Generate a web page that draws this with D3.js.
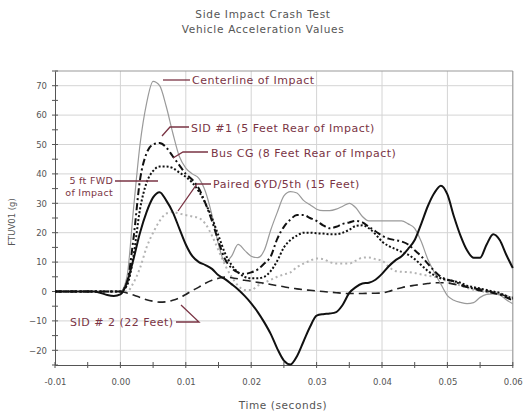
<!DOCTYPE html>
<html><head><meta charset="utf-8">
<script src="https://cdn.jsdelivr.net/npm/d3@7"></script>
<style>body{margin:0;background:#fff}svg{display:block}</style>
</head><body>
<svg id="c" width="525" height="413"></svg>
<script>
const times = [-0.01,-0.008,-0.006,-0.004,-0.003,-0.002,-0.001,0,0.001,0.002,0.003,0.004,0.005,0.006,0.007,0.008,0.009,0.010,0.011,0.012,0.013,0.014,0.015,0.016,0.017,0.018,0.019,0.020,0.021,0.022,0.023,0.024,0.025,0.026,0.027,0.028,0.029,0.030,0.031,0.032,0.033,0.034,0.035,0.036,0.037,0.038,0.039,0.040,0.041,0.042,0.043,0.044,0.045,0.046,0.047,0.048,0.049,0.050,0.051,0.052,0.053,0.054,0.055,0.056,0.057,0.058,0.059,0.060];

const centerline = [0,0,0,0,0,0,0,0,5,28,50,64,71.5,70,63,54,46,42,40,38.5,34,26,16,10,12,16,14,12,11.5,14,21,27,32.5,34,33.5,31,29.5,28,27.5,27.5,28,29,30,28.5,25.5,24,24,24,24,24,24,23,21.5,17,11,6.5,2.5,-1.4,-3,-3.7,-4.1,-3.8,-2,-1,-0.8,-1.2,-2.8,-4.2];
const sid1 = [0,0,0,0,0,0,0,0,3,18,38,47,50,50.5,49,46,43,40,38,35,30,24,17,11,8,6.5,6,6.5,7.5,9.5,12,18,22,24.5,26,26,25,24,22.5,21.5,22,23,23.5,24,23.5,22,20.5,19,18,17.5,17,16,14,12,9.5,7,5,4,3.5,2.5,1.5,1,0.3,0,-0.5,-1,-2,-3];
const busCG = [0,0,0,0,0,0,0,0,2,12,28,37,41,42.5,42.5,42,40.5,39,37,34,30,25,19,13,9,6.5,5,4.5,4.5,5,7,10.5,15,17.5,19,20,20,19.8,19.7,19.5,19.5,20,21,22.3,22.5,21.5,19.5,17,15.5,14.5,13.5,12.5,11,9,7,5.5,4.5,4,3.5,3,2,1.5,1,0.5,0,-0.5,-1.5,-2.5];
const paired = [0,0,0,0,0,0,0,0,0,3,8,15,20,24,26.5,27,26.5,26,25.5,25,23,19,14,9,5,2,0.5,0.5,2,3,4,5,5.8,6.5,8.3,9.5,10.5,11.2,11,10,9.5,9.5,9.5,10.5,11.5,11.6,11,10.5,8.5,7,6.7,6.6,6.3,5.8,5.4,5,4.4,3.5,2.8,2,1.2,0.6,0.2,-0.2,-0.5,-1,-1.5,-2];
const fwd5 = [0,0,0,0,-0.5,-1.2,-1.5,-1,3,11,20,27,32,33.8,31,27,21.5,16,12,10,9,7.7,5.5,4.2,2.5,0.7,-1.5,-4,-7,-10.5,-14.5,-19.5,-23.5,-24.8,-22,-17,-12,-8.2,-7.7,-7.5,-7,-4.5,-0.5,1.5,2.7,3,4,6,8.5,10.5,12,14.5,17.5,23,29,33.5,36,33,25.5,19,14,11.5,11.5,16,19.5,17.5,12.5,8];
const sid2 = [0,0,0,0,0,0,0,0,-0.5,-1.2,-2,-2.8,-3.3,-3.6,-3.5,-3,-2.2,-1,0.3,1.5,2.8,3.8,4.5,4.9,4.7,4.3,3.8,3.5,3.1,2.8,2.4,2,1.6,1.2,0.9,0.6,0.4,0.2,0,-0.2,-0.4,-0.6,-0.7,-0.7,-0.7,-0.6,-0.6,-0.5,0,0.7,1.3,1.8,2.1,2.4,2.7,3,3,2.9,2.5,2,1.5,1.1,0.8,0.3,-0.3,-0.9,-1.5,-2];

const xTicks = [-0.01,0.00,0.01,0.02,0.03,0.04,0.05,0.06];
const xTickLabels = ["-0.01","0.00","0.01","0.02","0.03","0.04","0.05","0.06"];
const yTicks = [-20,-10,0,10,20,30,40,50,60,70];
const titleLines = ["Side Impact Crash Test","Vehicle Acceleration Values"];

const svg = d3.select("#c");
const font = "DejaVu Sans, Verdana, sans-serif";
const x = d3.scaleLinear().domain([-0.01,0.06]).range([55,512.8]);
const y = d3.scaleLinear().domain([-25,75]).range([365,71]);
const red = "#7a3444";

// grid
const g = svg.append("g");
g.selectAll(".hg").data(yTicks).join("line")
  .attr("x1",55).attr("x2",512.8).attr("y1",d=>y(d)).attr("y2",d=>y(d))
  .attr("stroke","#d4d4d4").attr("stroke-width",1);
g.selectAll(".vg").data(xTicks.slice(1)).join("line")
  .attr("x1",d=>x(d)).attr("x2",d=>x(d)).attr("y1",71).attr("y2",365)
  .attr("stroke","#d4d4d4").attr("stroke-width",1);
g.append("line").attr("x1",55).attr("x2",512.8).attr("y1",71).attr("y2",71).attr("stroke","#999");
g.append("line").attr("x1",512.8).attr("x2",512.8).attr("y1",71).attr("y2",365).attr("stroke","#999");

// axes
const xAxis = d3.axisBottom(x).tickValues(xTicks).tickFormat((d,i)=>xTickLabels[i]).tickSize(0).tickPadding(14);
const xa = svg.append("g").attr("transform","translate(0,365)").call(xAxis);
xa.select(".domain").attr("stroke","#555");
xa.selectAll("text").attr("font-family",font).attr("font-size",8.5).attr("fill","#555");
const xMinor = d3.range(-0.01,0.0601,0.005);
svg.append("g").selectAll("line").data(xMinor).join("line")
  .attr("x1",d=>x(d)).attr("x2",d=>x(d)).attr("y1",362).attr("y2",368).attr("stroke","#555");

const yAxis = d3.axisLeft(y).tickValues(yTicks).tickSize(0).tickPadding(8);
const ya = svg.append("g").attr("transform","translate(55,0)").call(yAxis);
ya.select(".domain").attr("stroke","#555");
ya.selectAll("text").attr("font-family",font).attr("font-size",8.5).attr("fill","#555");
const yMinor = d3.range(-25,75.1,5);
svg.append("g").selectAll("line").data(yMinor).join("line")
  .attr("x1",52).attr("x2",58).attr("y1",d=>y(d)).attr("y2",d=>y(d)).attr("stroke","#555");

// series
const line = d3.line().x((d,i)=>x(times[i])).y(d=>y(d)).curve(d3.curveMonotoneX);
const series = [
  {v:paired, stroke:"#b4b4b4", w:2, dash:"2,3"},
  {v:sid2, stroke:"#222", w:1.6, dash:"8,5"},
  {v:centerline, stroke:"#9a9a9a", w:1.2, dash:null},
  {v:busCG, stroke:"#111", w:2, dash:"2,2"},
  {v:sid1, stroke:"#111", w:2, dash:"7,3,2,3"},
  {v:fwd5, stroke:"#111", w:2, dash:null}
];
svg.append("g").selectAll("path").data(series).join("path")
  .attr("d",d=>line(d.v)).attr("fill","none")
  .attr("stroke",d=>d.stroke).attr("stroke-width",d=>d.w)
  .attr("stroke-dasharray",d=>d.dash);

// annotations
const ann = svg.append("g").attr("font-family",font).attr("font-size",11).attr("letter-spacing",0.5).attr("fill",red);
const leaders = [
  [[163,80],[190,80]],
  [[162,136],[170,127],[189,127]],
  [[173,158],[183,152],[208,152]],
  [[178,211],[197,184],[211,184]],
  [[115,181],[158,181]],
  [[181,305],[199,322],[176,322]]
];
ann.selectAll("polyline").data(leaders).join("polyline")
  .attr("points",d=>d.map(p=>p.join(",")).join(" "))
  .attr("fill","none").attr("stroke",red).attr("stroke-width",1.3);
const labels = [
  {t:"Centerline of Impact", x:192, y:84},
  {t:"SID #1 (5 Feet Rear of Impact)", x:191, y:132},
  {t:"Bus CG (8 Feet Rear of Impact)", x:211, y:157},
  {t:"Paired 6YD/5th (15 Feet)", x:213, y:188},
  {t:"SID # 2 (22 Feet)", x:70, y:326}
];
ann.selectAll("text.l").data(labels).join("text")
  .attr("x",d=>d.x).attr("y",d=>d.y).text(d=>d.t);
ann.append("text").attr("x",113).attr("y",184).attr("text-anchor","end").attr("font-size",9.5).attr("letter-spacing",0.3).text("5 ft FWD");
ann.append("text").attr("x",113).attr("y",196).attr("text-anchor","end").attr("font-size",9.5).attr("letter-spacing",0.3).text("of Impact");

// titles
svg.append("g").selectAll("text").data(titleLines).join("text")
  .attr("x",263).attr("y",(d,i)=>18+i*15).attr("text-anchor","middle")
  .attr("font-family",font).attr("font-size",10.5).attr("letter-spacing",0.7).attr("fill","#555").text(d=>d);
svg.append("text").attr("x",283).attr("y",409).attr("text-anchor","middle")
  .attr("font-family",font).attr("font-size",10.5).attr("letter-spacing",0.6).attr("fill","#555").text("Time (seconds)");
svg.append("text").attr("transform","translate(15,222) rotate(-90)").attr("text-anchor","middle")
  .attr("font-family",font).attr("font-size",8.5).attr("fill","#555").text("FTUV01 (g)");
</script>
</body></html>
